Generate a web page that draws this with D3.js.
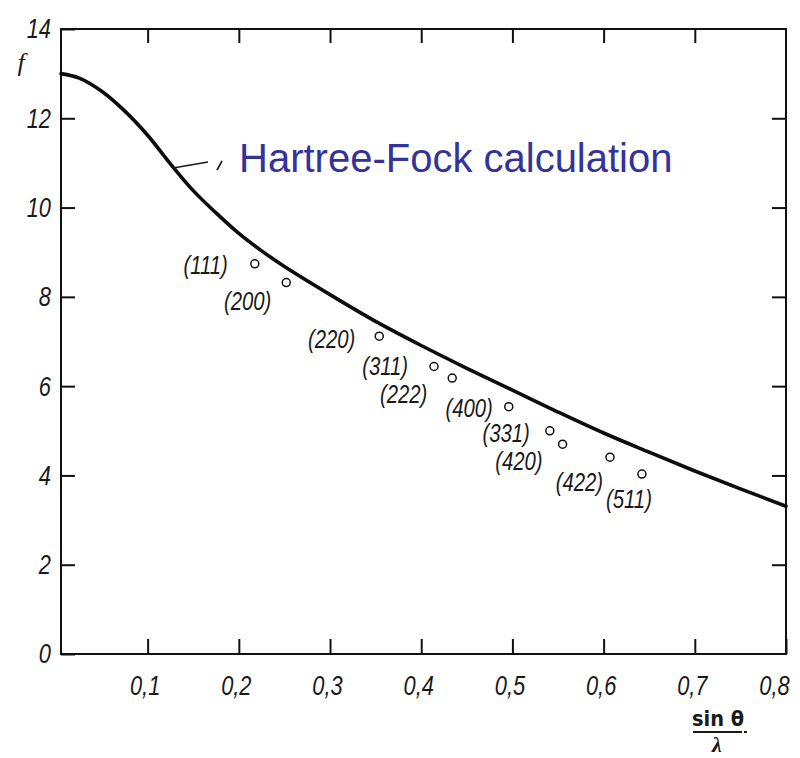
<!DOCTYPE html>
<meta charset="utf-8">
<style>
body { margin: 0; background: #fff; }
.axis path { display: none; }
.axis line { stroke: #111; stroke-width: 2; }
.axis text, .hkl { font-family: "Liberation Sans", Arial, sans-serif; font-style: italic; fill: #1a1a1a; }
.axis text { font-size: 28px; }
.hkl { font-size: 26px; }
</style>
<svg width="800" height="758" class="chart"></svg>
<script src="https://cdn.jsdelivr.net/npm/d3@7/dist/d3.min.js"></script>
<script>

// Hartree-Fock curve, f against sin(theta)/lambda
var curveX = [0.005, 0.025, 0.05, 0.075, 0.10, 0.125, 0.15, 0.175, 0.20, 0.225, 0.25, 0.30, 0.35, 0.40, 0.45, 0.50, 0.55, 0.60, 0.65, 0.70, 0.75, 0.80];
var curveF = [13.0, 12.9, 12.6, 12.16, 11.62, 10.98, 10.38, 9.88, 9.42, 9.03, 8.68, 8.05, 7.45, 6.91, 6.40, 5.91, 5.42, 4.95, 4.52, 4.10, 3.70, 3.31];

// measured points
var reflections = ["(111)", "(200)", "(220)", "(311)", "(222)", "(400)", "(331)", "(420)", "(422)", "(511)"];
var pointX = [0.2175, 0.252, 0.354, 0.414, 0.434, 0.496, 0.541, 0.555, 0.607, 0.642];
var pointF = [8.74, 8.32, 7.12, 6.44, 6.18, 5.54, 5.00, 4.70, 4.41, 4.03];

var xTicks = [0.1, 0.2, 0.3, 0.4, 0.5, 0.6, 0.7, 0.8];
var xTickLabels = ["0,1", "0,2", "0,3", "0,4", "0,5", "0,6", "0,7", "0,8"];
var yTicks = [0, 2, 4, 6, 8, 10, 12, 14];
var yTickLabels = ["0", "2", "4", "6", "8", "10", "12", "14"];

// where each (hkl) label sits relative to its circle (end of text)
var labelDx = [-27, -15, -24, -26, -25, -16, -20, -20, -7, 10];
var labelDy = [10, 27, 12, 8, 25, 10, 11, 26, 34, 34];

var svg = d3.select(".chart"),
    pLeft = 61, pRight = 786, pTop = 29, pBottom = 654;

var x = d3.scaleLinear().domain([0.005, 0.8]).range([pLeft, pRight]);
var y = d3.scaleLinear().domain([0, 14]).range([pBottom, pTop]);

// frame
svg.append("rect")
    .attr("x", pLeft).attr("y", pTop)
    .attr("width", pRight - pLeft).attr("height", pBottom - pTop)
    .attr("fill", "none").attr("stroke", "#111").attr("stroke-width", 2);

svg.append("g")
    .attr("class", "axis")
    .attr("transform", "translate(0," + pBottom + ")")
    .call(d3.axisBottom(x).tickValues(xTicks).tickSize(-15).tickPadding(21)
      .tickFormat(function(d, i) { return xTickLabels[i]; }))
  .selectAll("text")
    .attr("dx", function(d, i) { return i == xTicks.length - 1 ? -12 : -3; });

svg.append("g")
    .attr("class", "axis")
    .attr("transform", "translate(0," + pTop + ")")
    .call(d3.axisTop(x).tickValues(xTicks.slice(0, 7)).tickSize(-14).tickFormat(""));

svg.append("g")
    .attr("class", "axis")
    .attr("transform", "translate(" + pLeft + ",0)")
    .call(d3.axisLeft(y).tickValues(yTicks).tickSize(-14).tickPadding(10)
      .tickFormat(function(d, i) { return yTickLabels[i]; }));

svg.append("g")
    .attr("class", "axis")
    .attr("transform", "translate(" + pRight + ",0)")
    .call(d3.axisRight(y).tickValues(yTicks.slice(1, 7)).tickSize(-14).tickFormat(""));

// curve
var line = d3.line()
    .x(function(d) { return x(d[0]); })
    .y(function(d) { return y(d[1]); })
    .curve(d3.curveCatmullRom);

svg.append("path")
    .datum(d3.zip(curveX, curveF))
    .attr("d", line)
    .attr("fill", "none")
    .attr("stroke", "#0d0d0d")
    .attr("stroke-width", 3.6)
    .attr("stroke-linecap", "round");

// points and labels
var pts = svg.selectAll(".pt")
    .data(reflections)
    .enter().append("g")
      .attr("class", "pt");

pts.append("circle")
    .attr("cx", function(d, i) { return x(pointX[i]); })
    .attr("cy", function(d, i) { return y(pointF[i]); })
    .attr("r", 4)
    .attr("fill", "#fff")
    .attr("stroke", "#111")
    .attr("stroke-width", 1.5);

pts.append("text")
    .attr("class", "hkl")
    .attr("text-anchor", "end")
    .attr("x", function(d, i) { return x(pointX[i]) + labelDx[i]; })
    .attr("y", function(d, i) { return y(pointF[i]) + labelDy[i]; })
    .text(function(d) { return d; });

// squeeze the italic labels to look like the narrow type of the original
svg.selectAll(".axis text, .hkl").each(function() {
  var w = this.getComputedTextLength();
  if (w > 0) d3.select(this).attr("textLength", w * 0.78).attr("lengthAdjust", "spacingAndGlyphs");
});

// f label
svg.append("text")
    .attr("x", 21).attr("y", 71)
    .attr("text-anchor", "middle")
    .style("font", "italic 26px 'Liberation Serif', serif")
    .attr("fill", "#1a1a1a")
    .text("f");

// sin(theta)/lambda
var ax = svg.append("g").attr("fill", "#1a1a1a");
ax.append("text")
    .attr("x", 718).attr("y", 726)
    .attr("text-anchor", "middle")
    .style("font", "bold 21px 'DejaVu Sans', sans-serif")
    .attr("textLength", 52).attr("lengthAdjust", "spacingAndGlyphs")
    .text("sin θ");
ax.append("line")
    .attr("x1", 693).attr("x2", 742).attr("y1", 732).attr("y2", 732)
    .attr("stroke", "#1a1a1a").attr("stroke-width", 2);
ax.append("rect")
    .attr("x", 744).attr("y", 731).attr("width", 3).attr("height", 2);
ax.append("text")
    .attr("x", 717).attr("y", 752)
    .attr("text-anchor", "middle")
    .style("font", "bold italic 22px 'Liberation Serif', serif")
    .text("λ");

// annotation
svg.append("line")
    .attr("x1", 173).attr("y1", 168).attr("x2", 208).attr("y2", 162)
    .attr("stroke", "#1a1a1a").attr("stroke-width", 1.6);
svg.append("line")
    .attr("x1", 217).attr("y1", 170).attr("x2", 222).attr("y2", 161)
    .attr("stroke", "#1a1a1a").attr("stroke-width", 1.6);

svg.append("text")
    .attr("x", 239).attr("y", 172)
    .style("font", "40px 'Liberation Sans', Arial, sans-serif")
    .attr("fill", "#333399")
    .text("Hartree-Fock calculation");

</script>
